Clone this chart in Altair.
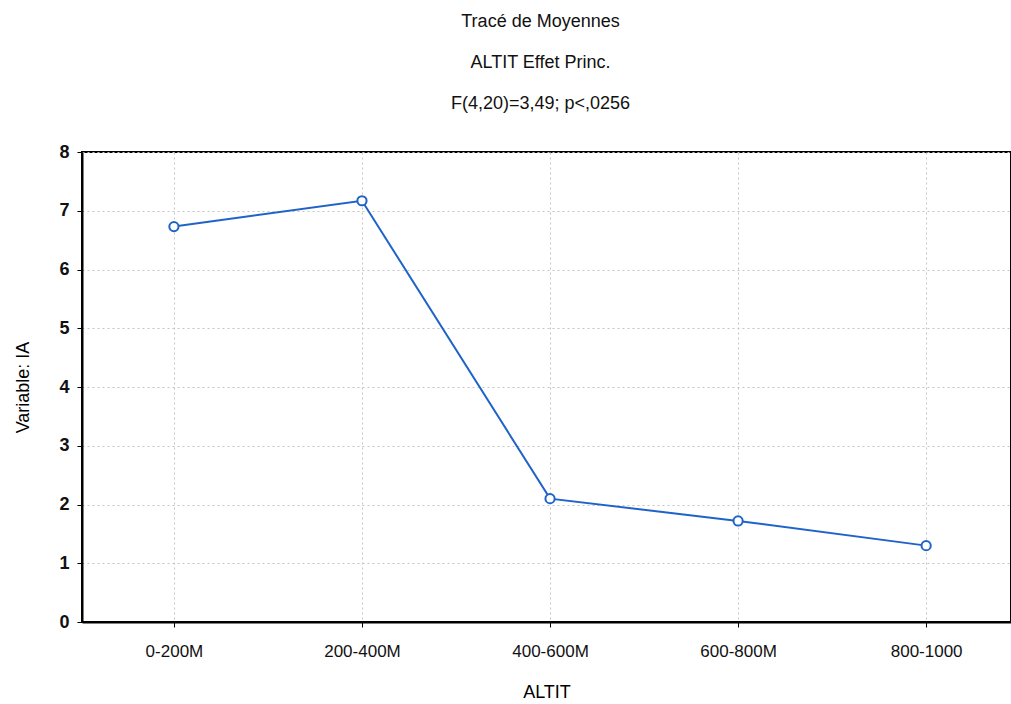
import altair as alt
import pandas as pd

categories = ["0-200M", "200-400M", "400-600M", "600-800M", "800-1000"]
means = [6.73, 7.17, 2.10, 1.72, 1.30]

df = pd.DataFrame({"ALTIT": categories, "IA": means})

base = alt.Chart(df).encode(
    x=alt.X("ALTIT:N", sort=categories,
            scale=alt.Scale(type="point", padding=0.47, align=0.52),
            axis=alt.Axis(title="ALTIT", labelAngle=0, labelFontSize=17,
                          labelColor="#111", titleFontSize=18, titleFontWeight="normal",
                          titlePadding=24, labelPadding=16, tickColor="#000",
                          tickSize=5, domainColor="#000", domainWidth=2, grid=True,
                          gridDash=[2, 3], gridColor="#c4c4c4", gridWidth=1)),
    y=alt.Y("IA:Q", scale=alt.Scale(domain=[0, 8], nice=False),
            axis=alt.Axis(title="Variable: IA", values=[0, 1, 2, 3, 4, 5, 6, 7, 8],
                          labelFontSize=18, labelFontWeight="bold", labelColor="#111",
                          titleFontSize=18, titleFontWeight="normal", titlePadding=26,
                          tickColor="#000", tickSize=5, domainColor="#000", domainWidth=2,
                          labelPadding=8,
                          gridDash=[2, 3], gridColor="#c4c4c4", gridWidth=1)),
)

line = base.mark_line(color="#1f63c9", strokeWidth=2)
pts = base.mark_point(shape="circle", filled=True, fill="white", stroke="#1f63c9",
                      strokeWidth=2, size=85, opacity=1)

chart = (line + pts).properties(
    width=929, height=470,
    title=alt.TitleParams(
        text=["Tracé de Moyennes", "ALTIT Effet Princ.", "F(4,20)=3,49; p<,0256"],
        fontSize=18, fontWeight="normal", font="Liberation Sans", color="#111",
        lineHeight=41, anchor="middle", offset=30, dx=-6),
    autosize=alt.AutoSizeParams(type="none"),
    padding={"left": 82, "top": 152, "right": 0, "bottom": 82},
).configure(font="Liberation Sans").configure_view(stroke="#000", strokeWidth=2)

chart.save("out.html", embed_options={"renderer": "svg", "actions": False})
